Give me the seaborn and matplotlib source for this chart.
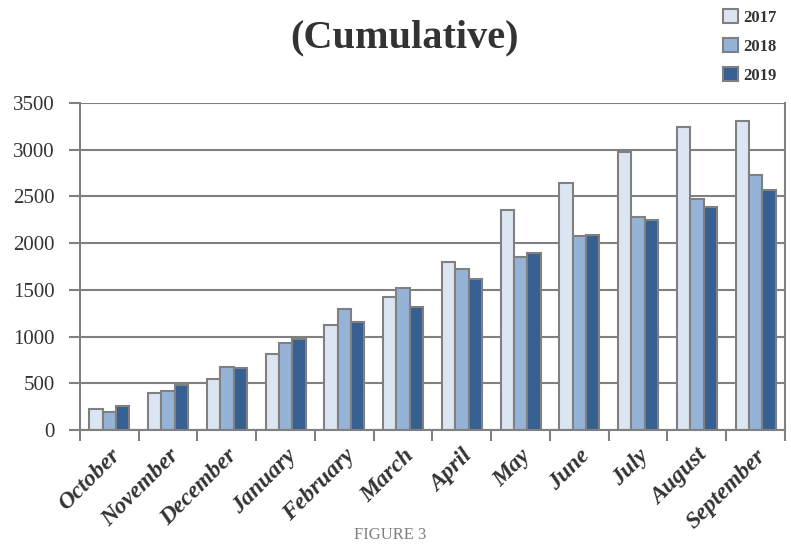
import matplotlib
matplotlib.use("Agg")
import matplotlib.pyplot as plt
import seaborn as sns
import pandas as pd

months = ["October", "November", "December", "January", "February", "March",
          "April", "May", "June", "July", "August", "September"]
years = ["2017", "2018", "2019"]
values_2017 = [229, 393, 543, 818, 1128, 1425, 1803, 2350, 2646, 2975, 3243, 3310]
values_2018 = [193, 414, 675, 932, 1300, 1518, 1728, 1853, 2078, 2285, 2475, 2725]
values_2019 = [257, 482, 661, 975, 1153, 1321, 1611, 1896, 2089, 2246, 2389, 2571]
y_ticks = [0, 500, 1000, 1500, 2000, 2500, 3000, 3500]

colors = ["#dce6f2", "#95b3d7", "#376092"]
grey = "#808080"
text_col = "#333333"

df = pd.DataFrame({
    "Month": months * 3,
    "Year": [y for y in years for _ in months],
    "Count": values_2017 + values_2018 + values_2019,
})

sns.set_theme(style="white")
plt.rcParams["font.family"] = ["Liberation Serif", "DejaVu Serif"]

fig = plt.figure(figsize=(7.91, 5.44), dpi=100)
ax = fig.add_axes([80 / 791, 1 - 430 / 544, 705 / 791, 327 / 544])

sns.barplot(data=df, x="Month", y="Count", hue="Year", order=months,
            hue_order=years, palette=colors, saturation=1, width=0.68,
            edgecolor=grey, linewidth=1.5, ax=ax)

ax.set_ylim(0, 3500)
ax.set_xlim(-0.5, len(months) - 0.5)
ax.set_yticks(y_ticks)
ax.set_yticklabels([str(t) for t in y_ticks], fontsize=15, color=text_col)
ax.set_xlabel("")
ax.set_ylabel("")

ax.set_axisbelow(True)
ax.yaxis.grid(True, color=grey, linewidth=1.5)
ax.xaxis.grid(False)
for side in ["left", "bottom", "right"]:
    ax.spines[side].set_color(grey)
    ax.spines[side].set_linewidth(1.5)
ax.spines["top"].set_visible(False)

# category boundary ticks below the axis, labels at the centres
ax.set_xticks([i - 0.5 for i in range(len(months) + 1)], minor=True)
ax.tick_params(axis="x", which="minor", length=8, width=1.5, color=grey,
               direction="out", bottom=True)
ax.tick_params(axis="x", which="major", length=0, pad=11)
ax.tick_params(axis="y", which="major", length=8, width=1.5, color=grey,
               direction="out", left=True, pad=10)
ax.set_xticks(range(len(months)))
ax.set_xticklabels(months, rotation=45, ha="right", rotation_mode="anchor",
                   fontsize=17, fontweight="bold", fontstyle="italic",
                   color=text_col)

handles, labels = ax.get_legend_handles_labels()
ax.get_legend().remove()
fig.legend(handles, labels, loc="upper left",
           bbox_to_anchor=(708 / 791, 1 + 6 / 544), frameon=False,
           handlelength=0.9, handleheight=0.9, handletextpad=0.3,
           labelspacing=0.75, prop={"size": 12, "weight": "bold"},
           labelcolor=text_col)

fig.text(405 / 791, 1 - 38 / 544, "(Cumulative)", ha="center", va="center",
         fontsize=29, fontweight="bold", color=text_col)
fig.text(390 / 791, 1 - 543 / 544, "FIGURE 3", ha="center", va="bottom",
         fontsize=12, color=grey)

fig.savefig("out.png", dpi=100)
